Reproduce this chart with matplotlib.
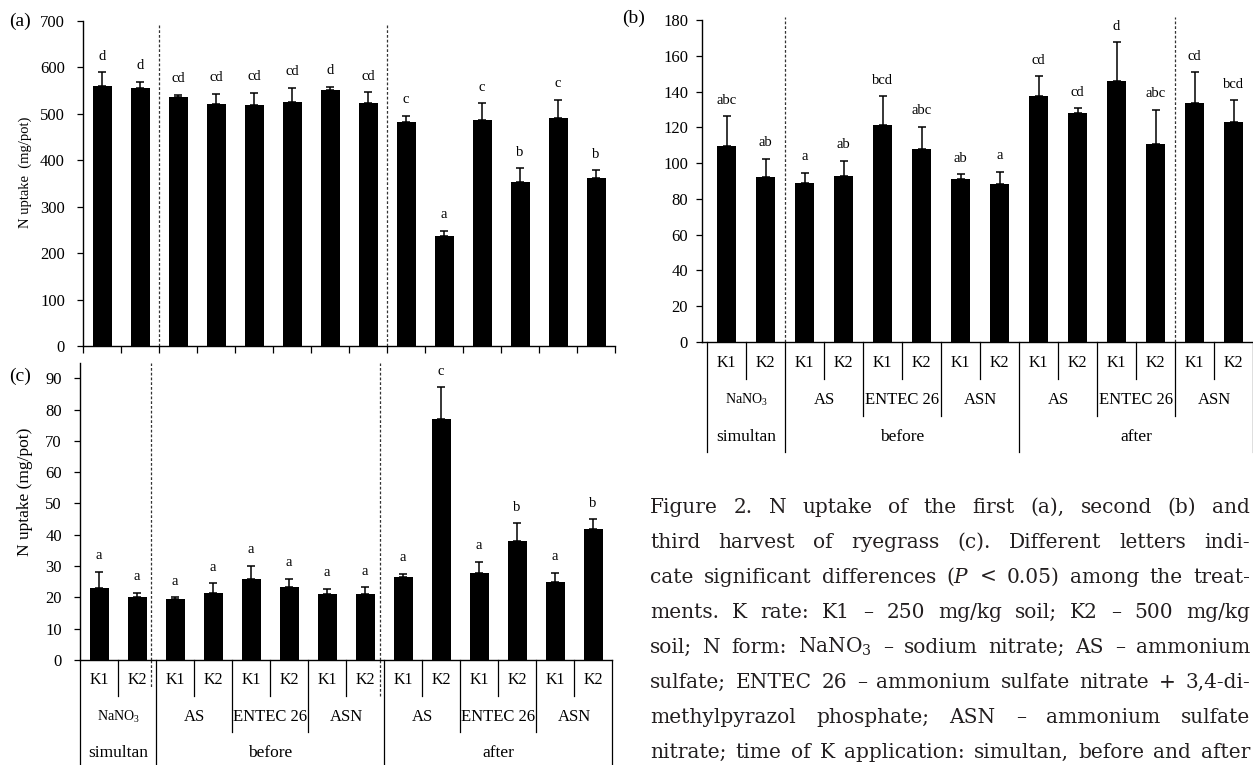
import matplotlib
matplotlib.use("Agg")
import matplotlib.pyplot as plt
import numpy as np
from matplotlib.transforms import offset_copy

plt.rcParams['font.family'] = ['Liberation Serif', 'DejaVu Serif']
plt.rcParams['mathtext.fontset'] = 'custom'
plt.rcParams['mathtext.rm'] = 'Liberation Serif'
plt.rcParams['mathtext.it'] = 'Liberation Serif:italic'

# ---------------- data ----------------
k_rates = ["K1", "K2"] * 7
n_forms = ["NaNO$_3$", "AS", "ENTEC 26", "ASN", "AS", "ENTEC 26", "ASN"]
times = ["simultan", "before", "after"]
time_spans = [(0, 2), (2, 8), (8, 14)]

uptake_a = [560, 556, 537, 521, 519, 526, 552, 524, 482, 237, 487, 354, 490, 361]
err_a = [30, 13, 4, 22, 26, 30, 6, 22, 14, 11, 36, 29, 40, 17]
letters_a = ["d", "d", "cd", "cd", "cd", "cd", "d", "cd", "c", "a", "c", "b", "c", "b"]

uptake_b = [109.6, 92.4, 88.7, 92.6, 121.5, 107.7, 91.1, 88.1, 137.3, 128.2, 145.7, 110.7, 133.4, 122.8]
err_b = [16.7, 10.1, 5.8, 8.6, 16.0, 12.7, 2.8, 7.1, 11.2, 2.4, 22.0, 19.2, 17.5, 12.3]
letters_b = ["abc", "ab", "a", "ab", "bcd", "abc", "ab", "a", "cd", "cd", "d", "abc", "cd", "bcd"]

uptake_c = [23.1, 20.2, 19.6, 21.3, 25.8, 23.4, 21.0, 21.0, 26.4, 76.9, 27.9, 38.1, 25.0, 41.9]
err_c = [5.1, 1.3, 0.5, 3.2, 4.3, 2.5, 1.7, 2.3, 1.1, 10.2, 3.5, 5.6, 2.9, 3.1]
letters_c = ["a", "a", "a", "a", "a", "a", "a", "a", "a", "c", "a", "b", "a", "b"]

caption_lines = [
    "Figure 2. N uptake of the first (a), second (b) and",
    "third harvest of ryegrass (c). Different letters indi-",
    "cate significant differences ($P$ < 0.05) among the treat-",
    "ments. K rate: K1 – 250 mg/kg soil; K2 – 500 mg/kg",
    "soil; N form: NaNO$_3$ – sodium nitrate; AS – ammonium",
    "sulfate; ENTEC 26 – ammonium sulfate nitrate + 3,4-di-",
    "methylpyrazol phosphate; ASN – ammonium sulfate",
    "nitrate; time of K application: simultan, before and after",
]

# ---------------- figure ----------------
W, H = 1253, 765
fig = plt.figure(figsize=(W / 100, H / 100), dpi=100)
fig.patch.set_facecolor('white')


def px_axes(left, top, right, bottom):
    return fig.add_axes([left / W, 1 - bottom / H, (right - left) / W, (bottom - top) / H])


ax_a = px_axes(83, 21, 615, 346)
ax_b = px_axes(702, 20, 1253, 342)
ax_c = px_axes(80, 362.6, 612, 660)

x = np.arange(14) + 0.5


def draw_bars(ax, vals, errs, letters, ylim, yticks, label_pad):
    ax.bar(x, vals, width=0.5, color='black', zorder=3)
    ax.errorbar(x, vals, yerr=[np.zeros(len(vals)), errs], fmt='none', ecolor='black',
                elinewidth=1.1, capsize=3, capthick=1.1, zorder=3)
    for xi, v, e, l in zip(x, vals, errs, letters):
        ax.annotate(l, (xi, v + e), xytext=(0, 9), textcoords='offset points',
                    ha='center', va='baseline', fontsize=10.5)
    ax.set_ylim(*ylim)
    ax.set_yticks(yticks)
    ax.tick_params(axis='y', direction='out', length=4, width=0.9, labelsize=12, pad=label_pad)
    for s in ('top', 'right'):
        ax.spines[s].set_visible(False)
    for s in ('left', 'bottom'):
        ax.spines[s].set_linewidth(1.0)


draw_bars(ax_a, uptake_a, err_a, letters_a, (0, 700), range(0, 701, 100), 9)
ax_a.set_xlim(0, 14)
ax_a.set_xticks(range(15))
ax_a.set_xticklabels([])
ax_a.tick_params(axis='x', direction='out', length=5, width=0.9)

draw_bars(ax_b, uptake_b, err_b, letters_b, (0, 180), range(0, 181, 20), 6)
ax_b.set_xlim(-5 / 39, 14)
ax_b.set_xticks([])

draw_bars(ax_c, uptake_c, err_c, letters_c, (0, 95), range(0, 91, 10), 9)
ax_c.set_xlim(0, 14)
ax_c.set_xticks([])

dash = dict(color='#333333', lw=0.9, linestyle=(0, (2.2, 1.6)), zorder=2)
for b in (2, 8):
    ax_a.plot([b, b], [0, 696], **dash)
for b in (2, 12):
    ax_b.plot([b, b], [0, 181.5], clip_on=False, **dash)


def draw_table(ax, ax_h, rows, divs, dashed=()):
    tr = ax.get_xaxis_transform()

    def yf(px):
        return -px / ax_h
    lk = dict(color='black', lw=0.9, clip_on=False, transform=tr)
    for b in range(1, 14, 2):
        ax.plot([b, b], [0, yf(divs[0])], **lk)
    for b in (4, 6, 10, 12):
        ax.plot([b, b], [0, yf(divs[1])], **lk)
    for b in (0, 2, 8, 14):
        ax.plot([b, b], [0, yf(divs[2])], **lk)
    for xd, depth in dashed:
        ax.plot([xd, xd], [0, yf(depth)], transform=tr, clip_on=False, **dash)

    def tpos(px):
        return offset_copy(tr, fig=fig, x=0, y=-px, units='dots')
    for i, k in enumerate(k_rates):
        ax.text(i + 0.5, 0, k, transform=tpos(rows[0]), ha='center', va='center', fontsize=11.5)
    for j, n in enumerate(n_forms):
        fs = 10 if 'NaNO' in n else 12
        ax.text(2 * j + 1, 0, n, transform=tpos(rows[1]), ha='center', va='center', fontsize=fs)
    for t, (s, e) in zip(times, time_spans):
        ax.text((s + e) / 2, 0, t, transform=tpos(rows[2]), ha='center', va='center', fontsize=12.5)


draw_table(ax_b, 322, (21, 58, 95), (37, 74, 110))
draw_table(ax_c, 297.4, (20, 57, 93), (36, 72, 110),
           dashed=((2 - 5 / 38, 28), (8 - 4.5 / 38, 38)))
ax_c.plot([2 - 5 / 38] * 2, [0, 95], **dash)
ax_c.plot([8 - 4.5 / 38] * 2, [0, 95], **dash)

# axis titles and panel labels
fig.text(25 / W, 1 - 172 / H, "N uptake  (mg/pot)", rotation=90, ha='center', va='center', fontsize=10.5)
fig.text(25 / W, 1 - 492 / H, "N uptake (mg/pot)", rotation=90, ha='center', va='center', fontsize=12.5)
fig.text(20 / W, 1 - 21 / H, "(a)", ha='center', va='center', fontsize=14)
fig.text(634 / W, 1 - 18 / H, "(b)", ha='center', va='center', fontsize=14)
fig.text(20 / W, 1 - 376 / H, "(c)", ha='center', va='center', fontsize=14)

# justified caption (wider serif face, word-level justification)
renderer = fig.canvas.get_renderer()
cap_x0, cap_x1 = 650, 1250
cap_base0, cap_step = 513, 35
for i, line in enumerate(caption_lines):
    tokens = line.split(' ')
    yb = 1 - (cap_base0 + i * cap_step) / H
    texts = [fig.text(0, yb, tok, fontsize=14.5, va='baseline', ha='left', color='#231f20',
                      fontfamily='DejaVu Serif', math_fontfamily='dejavuserif')
             for tok in tokens]
    widths = [t.get_window_extent(renderer).width for t in texts]
    gap = (cap_x1 - cap_x0 - sum(widths)) / (len(tokens) - 1)
    xp = cap_x0
    for t, w in zip(texts, widths):
        t.set_x(xp / W)
        xp += w + gap

fig.savefig("out.png", dpi=100, facecolor='white')
